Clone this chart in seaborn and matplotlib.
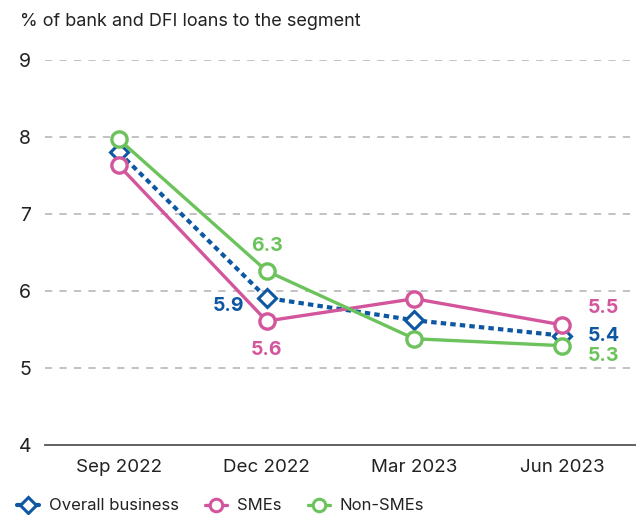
import pandas as pd
import matplotlib
matplotlib.use("Agg")
import matplotlib.pyplot as plt
import seaborn as sns
from matplotlib.lines import Line2D

# data
quarters = ["Sep 2022", "Dec 2022", "Mar 2023", "Jun 2023"]
overall = [7.80, 5.91, 5.62, 5.42]
smes = [7.63, 5.61, 5.90, 5.56]
non_smes = [7.97, 6.26, 5.38, 5.29]

blue = "#0d57a3"
pink = "#d3559c"
green = "#6cc35c"

sns.set_theme(style="white")
plt.rcParams["font.family"] = ["Inter", "DejaVu Sans"]

df = pd.DataFrame({"quarter": quarters, "Overall business": overall,
                   "SMEs": smes, "Non-SMEs": non_smes})

fig = plt.figure(figsize=(6.36, 5.15), dpi=100)
ax = fig.add_axes([45 / 636, 1 - 445 / 515, 1 - 45 / 636, 385 / 515])

sns.lineplot(data=df, x="quarter", y="Overall business", ax=ax, color=blue,
             linewidth=3, linestyle=(0, (1.3, 1.0)), marker="D", markersize=9,
             markerfacecolor="white", markeredgecolor=blue, markeredgewidth=2.2,
             zorder=3, clip_on=False)
sns.lineplot(data=df, x="quarter", y="SMEs", ax=ax, color=pink,
             linewidth=2.4, marker="o", markersize=11,
             markerfacecolor="white", markeredgecolor=pink, markeredgewidth=2.4,
             zorder=4, clip_on=False)
sns.lineplot(data=df, x="quarter", y="Non-SMEs", ax=ax, color=green,
             linewidth=2.4, marker="o", markersize=11,
             markerfacecolor="white", markeredgecolor=green, markeredgewidth=2.4,
             zorder=5, clip_on=False)

ax.set_xlim(-0.5, 3.5)
ax.set_ylim(4, 9)
ax.set_yticks([4, 5, 6, 7, 8, 9])
ax.set_xlabel("")
ax.set_ylabel("")
for y in [5, 6, 7, 8, 9]:
    ax.axhline(y, color="#bdbdbd", linewidth=1.3, linestyle=(0, (4, 4)), zorder=1)
for s in ["top", "right", "left"]:
    ax.spines[s].set_visible(False)
ax.spines["bottom"].set_color("#555555")
ax.spines["bottom"].set_linewidth(1.3)
ax.tick_params(axis="y", length=0, pad=10, labelsize=14, labelcolor="#222222")
ax.tick_params(axis="x", length=0, pad=10, labelsize=13.5, labelcolor="#222222")

fig.text(20 / 636, 1 - 21 / 515, "% of bank and DFI loans to the segment",
         fontsize=13, color="#222222", va="center", ha="left")

# value labels
lab = dict(fontsize=14, fontweight="bold")
ax.text(1, non_smes[1] + 0.33, "6.3", color=green, ha="center", va="center", **lab)
ax.text(0.74, overall[1] - 0.1, "5.9", color=blue, ha="center", va="center", **lab)
ax.text(1, smes[1] - 0.37, "5.6", color=pink, ha="center", va="center", **lab)
ax.text(3.28, 5.78, "5.5", color=pink, ha="center", va="center", **lab)
ax.text(3.28, 5.42, "5.4", color=blue, ha="center", va="center", **lab)
ax.text(3.28, 5.16, "5.3", color=green, ha="center", va="center", **lab)

handles = [
    Line2D([], [], color=blue, linewidth=3, marker="D", markersize=8,
           markerfacecolor="white", markeredgecolor=blue, markeredgewidth=2.2),
    Line2D([], [], color=pink, linewidth=2.4, marker="o", markersize=9,
           markerfacecolor="white", markeredgecolor=pink, markeredgewidth=2.2),
    Line2D([], [], color=green, linewidth=2.4, marker="o", markersize=9,
           markerfacecolor="white", markeredgecolor=green, markeredgewidth=2.2),
]
fig.legend(handles, ["Overall business", "SMEs", "Non-SMEs"], ncol=3,
           loc="center left", bbox_to_anchor=(2 / 636, 1 - 506 / 515),
           frameon=False, fontsize=12, handlelength=1.3, handletextpad=0.6,
           columnspacing=1.6, labelcolor="#222222")

fig.savefig("out.png", dpi=100)
